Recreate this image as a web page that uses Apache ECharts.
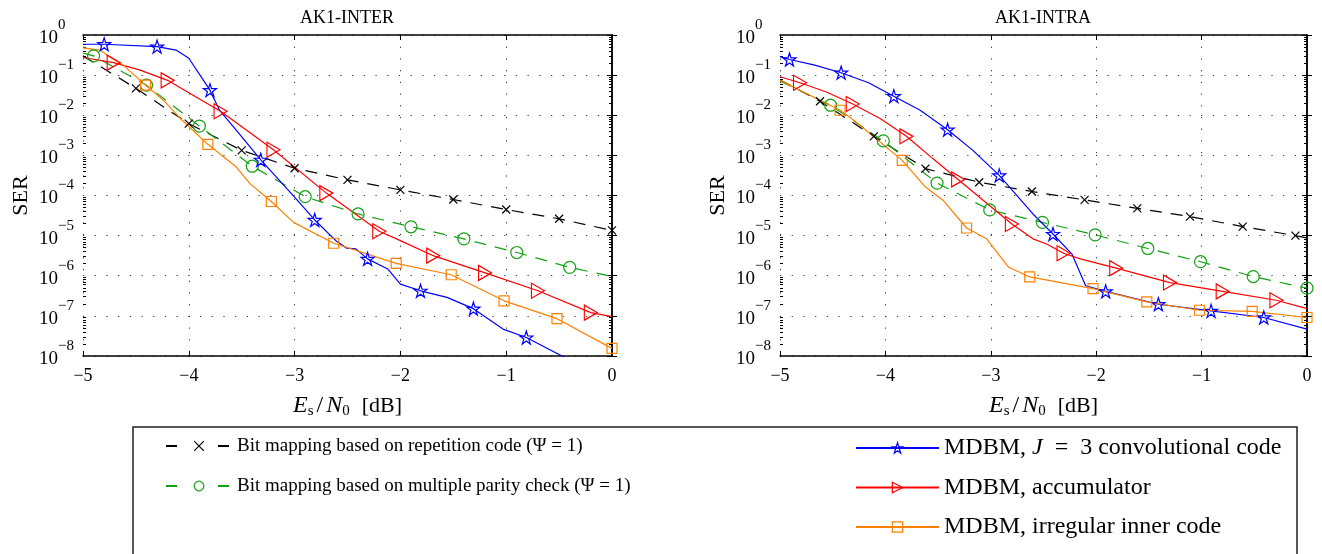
<!DOCTYPE html>
<html>
<head>
<meta charset="utf-8">
<script src="https://cdn.jsdelivr.net/npm/echarts@6/dist/echarts.min.js"></script>
<style>
html,body{margin:0;padding:0;background:#fff;}
#chart{width:1322px;height:554px;}
</style>
</head>
<body>
<div id="chart"></div>
<script>
var FONT = '"Liberation Serif","Times New Roman",serif';

// tick labels
var xTicks = [-5, -4, -3, -2, -1, 0];
var yDecades = [0, -1, -2, -3, -4, -5, -6, -7, -8];

// AK1-INTER, values are log10(SER), mark=1 where a marker is drawn
var interRepX    = [-5, -4.5, -4, -3.5, -3, -2.5, -2, -1.5, -1, -0.5, 0];
var interRepY    = [-0.52, -1.33, -2.21, -2.875, -3.32, -3.61, -3.86, -4.1, -4.35, -4.58, -4.87];
var interRepMark = [0, 1, 1, 1, 1, 1, 1, 1, 1, 1, 1];

var interMpcX    = [-5, -4.9, -4.4, -3.9, -3.4, -2.9, -2.4, -1.9, -1.4, -0.9, -0.4, 0];
var interMpcY    = [-0.45, -0.52, -1.25, -2.27, -3.27, -4.03, -4.46, -4.78, -5.08, -5.42, -5.79, -6.02];
var interMpcMark = [0, 1, 1, 1, 1, 1, 1, 1, 1, 1, 1, 0];

var interConvX    = [-5, -4.8, -4.3, -4.12, -4.0, -3.8, -3.71, -3.55, -3.32, -3.0, -2.81, -2.61, -2.51, -2.42, -2.31, -2.12, -2.0, -1.81, -1.56, -1.31, -1.03, -0.81, -0.4];
var interConvY    = [-0.23, -0.23, -0.29, -0.375, -0.58, -1.375, -1.875, -2.375, -3.11, -4.04, -4.61, -5.125, -5.31, -5.33, -5.58, -5.83, -6.21, -6.375, -6.54, -6.82, -7.33, -7.54, -8.1];
var interConvMark = [0, 1, 1, 0, 0, 1, 0, 0, 1, 0, 1, 0, 0, 0, 1, 0, 0, 1, 0, 1, 0, 1, 0];

var interAccX    = [-5, -4.71, -4.46, -4.2, -3.96, -3.7, -3.2, -2.7, -2.2, -2.0, -1.69, -1.2, -0.7, -0.2, 0];
var interAccY    = [-0.56, -0.69, -0.875, -1.13, -1.5, -1.9, -2.86, -3.94, -4.89, -5.125, -5.5, -5.93, -6.375, -6.92, -7.02];
var interAccMark = [0, 1, 0, 1, 0, 1, 1, 1, 1, 0, 1, 1, 1, 1, 0];

var interIrrX    = [-5, -4.84, -4.75, -4.62, -4.41, -4.24, -4.08, -3.82, -3.55, -3.42, -3.22, -3.01, -2.63, -2.51, -2.04, -1.52, -1.02, -0.52, 0];
var interIrrY    = [-0.32, -0.375, -0.54, -0.75, -1.25, -1.625, -2.08, -2.725, -3.29, -3.71, -4.15, -4.67, -5.19, -5.29, -5.69, -5.975, -6.625, -7.07, -7.81];
var interIrrMark = [0, 0, 0, 0, 1, 0, 0, 1, 0, 0, 1, 0, 1, 0, 1, 1, 1, 1, 1];

// AK1-INTRA
var intraRepX    = [-5, -4.62, -4.11, -3.62, -3.11, -2.61, -2.11, -1.61, -1.11, -0.61, -0.11, 0];
var intraRepY    = [-1.12, -1.65, -2.525, -3.33, -3.67, -3.9, -4.11, -4.32, -4.525, -4.775, -5.0, -5.06];
var intraRepMark = [0, 1, 1, 1, 1, 1, 1, 1, 1, 1, 1, 0];

var intraMpcX    = [-5, -4.52, -4.02, -3.51, -3.01, -2.51, -2.01, -1.51, -1.01, -0.51, 0];
var intraMpcY    = [-1.15, -1.75, -2.64, -3.69, -4.36, -4.67, -4.98, -5.32, -5.65, -6.02, -6.31];
var intraMpcMark = [0, 1, 1, 1, 1, 1, 1, 1, 1, 1, 1];

var intraConvX    = [-5, -4.91, -4.67, -4.42, -4.16, -3.92, -3.67, -3.41, -3.17, -2.92, -2.60, -2.41, -2.23, -2.10, -1.91, -1.41, -0.91, -0.41, 0];
var intraConvY    = [-0.54, -0.61, -0.75, -0.94, -1.19, -1.525, -1.875, -2.36, -2.875, -3.5, -4.46, -4.96, -5.46, -6.25, -6.39, -6.71, -6.875, -7.04, -7.33];
var intraConvMark = [0, 1, 0, 1, 0, 1, 0, 1, 0, 1, 0, 1, 0, 0, 1, 1, 1, 1, 0];

var intraAccX    = [-5, -4.81, -4.56, -4.31, -4.05, -3.80, -3.55, -3.31, -3.07, -2.80, -2.60, -2.47, -2.31, -2.15, -1.81, -1.30, -0.80, -0.29, 0];
var intraAccY    = [-1.04, -1.19, -1.42, -1.72, -2.08, -2.525, -3.08, -3.6, -4.125, -4.71, -5.08, -5.21, -5.44, -5.58, -5.81, -6.17, -6.39, -6.61, -6.82];
var intraAccMark = [0, 1, 0, 1, 0, 1, 0, 1, 0, 1, 0, 0, 1, 0, 1, 1, 1, 1, 0];

var intraIrrX    = [-5, -4.43, -4.30, -3.84, -3.62, -3.45, -3.23, -3.04, -2.83, -2.63, -2.03, -1.52, -1.02, -0.52, 0];
var intraIrrY    = [-1.13, -1.875, -2.125, -3.125, -3.79, -4.125, -4.81, -5.08, -5.79, -6.03, -6.32, -6.65, -6.86, -6.89, -7.04];
var intraIrrMark = [0, 1, 0, 1, 0, 0, 1, 0, 0, 1, 1, 1, 1, 1, 1];

var nameRep  = 'Bit mapping based on repetition code (Ψ = 1)';
var nameMpc  = 'Bit mapping based on multiple parity check (Ψ = 1)';
var nameConv = 'MDBM, J = 3 convolutional code';
var nameAcc  = 'MDBM, accumulator';
var nameIrr  = 'MDBM, irregular inner code';

var STAR = 'path://M50,0L61.2,34.5L97.6,34.5L68.2,55.9L79.4,90.5L50,69.1L20.6,90.5L31.8,55.9L2.4,34.5L38.8,34.5Z';
var TRI  = 'path://M0,0L20,11L0,22Z';
var CROSS = 'path://M0,0L10,10M0,10L10,0';

var styles = {
	rep  : {color:'#000000', symbol:CROSS, size:8, dash:[12,9]},
	mpc  : {color:'#13a013', symbol:'circle', size:12, dash:[12,9]},
	conv : {color:'#0000ff', symbol:STAR, size:13, dash:'solid'},
	acc  : {color:'#ff0000', symbol:TRI, size:[13,15], dash:'solid'},
	irr  : {color:'#ff8000', symbol:'rect', size:10, dash:'solid'}
};

// log minor ticks 2..9 x each decade
var yMinorTicks = [];
for(var d=yDecades.length-1;d>0;d--){
	for(var k=2;k<10;k++){
		yMinorTicks.push(k*Math.pow(10, yDecades[d]));
	}
}

function buildData(xs, ys, marks){
	var d = [];
	for(var i=0;i<xs.length;i++){
		var item = {value:[xs[i], Math.pow(10, ys[i])]};
		if(!marks[i]){
			item.symbol = 'none';
		}
		d.push(item);
	}
	return d;
}

function makeSeries(name, side, key, xs, ys, marks){
	var s = styles[key];
	return {
		name: name,
		type: 'line',
		xAxisIndex: side*2,
		yAxisIndex: side*4,
		data: buildData(xs, ys, marks),
		symbol: s.symbol,
		symbolSize: s.size,
		showAllSymbol: true,
		silent: true,
		animation: false,
		color: s.color,
		lineStyle: {color:s.color, width:1.2, type:s.dash},
		itemStyle: {color:'transparent', borderColor:s.color, borderWidth:1.2}
	};
}

// superscript on its own line, shifted right past the "10"
function yLabel(v){
	var e = Math.round(Math.log10(v));
	return '{s|' + (e<0 ? '−'+(-e) : e) + '}\n{b|10}';
}
function xLabel(v){
	return v<0 ? '−'+(-v) : ''+v;
}

var grids = [
	{left:83, top:35, width:529, height:321},
	{left:780, top:35, width:527, height:321}
];

var xAxes = [];
var yAxes = [];
for(var g=0;g<2;g++){
	xAxes.push({
		type:'value', gridIndex:g, min:-5, max:0, interval:1, position:'bottom',
		name:'{i|E}{sub|s}{sl|/}{i|N}{sub|0}{n|[dB]}', nameLocation:'middle', nameGap:37,
		nameTextStyle:{rich:{
			i:{fontFamily:FONT, fontSize:24, fontStyle:'italic', color:'#000', verticalAlign:'middle', lineHeight:26},
			sl:{fontFamily:FONT, fontSize:24, color:'#000', verticalAlign:'middle', lineHeight:26, padding:[0,3,0,3]},
			n:{fontFamily:FONT, fontSize:22, color:'#000', verticalAlign:'middle', lineHeight:26, padding:[0,0,0,12]},
			sub:{fontFamily:FONT, fontSize:15, color:'#000', verticalAlign:'bottom', lineHeight:15}
		}},
		axisLine:{lineStyle:{color:'#000', width:1.5}},
		axisTick:{inside:true, length:5, lineStyle:{color:'#000'}},
		axisLabel:{formatter:xLabel, fontFamily:FONT, fontSize:18, color:'#000', margin:11},
		splitLine:{show:true, lineStyle:{color:'#333', width:1, type:[1.2,10.5]}}
	});
	xAxes.push({
		type:'value', gridIndex:g, min:-5, max:0, interval:1, position:'top',
		axisLine:{lineStyle:{color:'#000', width:1.5}},
		axisTick:{inside:true, length:5, lineStyle:{color:'#000'}},
		axisLabel:{show:false},
		splitLine:{show:false}
	});
	yAxes.push({
		type:'log', logBase:10, gridIndex:g, min:1e-8, max:1, interval:1, position:'left',
		name:'SER', nameLocation:'middle', nameGap:51,
		nameTextStyle:{fontFamily:FONT, fontSize:22, color:'#000'},
		axisLine:{lineStyle:{color:'#000', width:1.5}},
		axisTick:{inside:true, length:5, lineStyle:{color:'#000'}},
		axisLabel:{formatter:yLabel, align:'left', margin:44, showMinLabel:true, showMaxLabel:true,
			padding:[0,0,2,0], rich:{
			b:{fontFamily:FONT, fontSize:19, color:'#000', lineHeight:18},
			s:{fontFamily:FONT, fontSize:15, color:'#000', lineHeight:8, padding:[0,0,0,19]}
		}},
		splitLine:{show:true, lineStyle:{color:'#333', width:1, type:[1.2,10.5]}}
	});
	yAxes.push({
		type:'log', logBase:10, gridIndex:g, min:1e-8, max:1, interval:1, position:'right',
		axisLine:{lineStyle:{color:'#000', width:1.5}},
		axisTick:{inside:true, length:5, lineStyle:{color:'#000'}},
		axisLabel:{show:false},
		splitLine:{show:false}
	});
	// minor ticks only
	yAxes.push({
		type:'log', logBase:10, gridIndex:g, min:1e-8, max:1, interval:1, position:'left', offset:0,
		axisLine:{show:false},
		axisTick:{inside:true, length:3, customValues:yMinorTicks, lineStyle:{color:'#000'}},
		axisLabel:{show:false},
		splitLine:{show:false}
	});
	yAxes.push({
		type:'log', logBase:10, gridIndex:g, min:1e-8, max:1, interval:1, position:'right', offset:0,
		axisLine:{show:false},
		axisTick:{inside:true, length:3, customValues:yMinorTicks, lineStyle:{color:'#000'}},
		axisLabel:{show:false},
		splitLine:{show:false}
	});
}

var series = [
	makeSeries(nameRep, 0, 'rep', interRepX, interRepY, interRepMark),
	makeSeries(nameMpc, 0, 'mpc', interMpcX, interMpcY, interMpcMark),
	makeSeries(nameConv, 0, 'conv', interConvX, interConvY, interConvMark),
	makeSeries(nameAcc, 0, 'acc', interAccX, interAccY, interAccMark),
	makeSeries(nameIrr, 0, 'irr', interIrrX, interIrrY, interIrrMark),
	makeSeries(nameRep, 1, 'rep', intraRepX, intraRepY, intraRepMark),
	makeSeries(nameMpc, 1, 'mpc', intraMpcX, intraMpcY, intraMpcMark),
	makeSeries(nameConv, 1, 'conv', intraConvX, intraConvY, intraConvMark),
	makeSeries(nameAcc, 1, 'acc', intraAccX, intraAccY, intraAccMark),
	makeSeries(nameIrr, 1, 'irr', intraIrrX, intraIrrY, intraIrrMark)
];

var option = {
	animation:false,
	grid: grids,
	xAxis: xAxes,
	yAxis: yAxes,
	series: series,
	legend: [
		{data:[nameRep, nameMpc], orient:'vertical', left:165, top:436, padding:0,
		 itemWidth:66, itemHeight:12, itemGap:20, selectedMode:false,
		 lineStyle:{type:[11,41]},
		 itemStyle:{color:'transparent', borderWidth:1.2},
		 textStyle:{fontFamily:FONT, fontSize:19, color:'#000', lineHeight:20}},
		{data:[nameConv, nameAcc, nameIrr], orient:'vertical', left:855, top:436, padding:0,
		 itemWidth:83, itemHeight:13, itemGap:15.5, selectedMode:false,
		 itemStyle:{color:'transparent', borderWidth:1.2},
		 textStyle:{fontFamily:FONT, fontSize:24, color:'#000', lineHeight:24,
			rich:{
				i:{fontFamily:FONT, fontSize:24, fontStyle:'italic', color:'#000', lineHeight:24},
				m:{fontFamily:FONT, fontSize:24, color:'#000', lineHeight:24, padding:[0,12,0,12]}
			}},
		 formatter:function(n){ return n.replace('J = 3', '{i|J}{m|=}3'); }}
	],
	graphic: [
		{type:'rect', shape:{x:133, y:427, width:1164, height:140}, style:{fill:'none', stroke:'#222', lineWidth:1.5}, z:-1},
		{type:'text', x:347, y:18, style:{text:'AK1-INTER', fontFamily:FONT, fontSize:18, fill:'#000', align:'center', verticalAlign:'middle'}},
		{type:'text', x:1043, y:18, style:{text:'AK1-INTRA', fontFamily:FONT, fontSize:18, fill:'#000', align:'center', verticalAlign:'middle'}}
	]
};

var myChart = echarts.init(document.getElementById('chart'));
myChart.setOption(option);
</script>
</body>
</html>
